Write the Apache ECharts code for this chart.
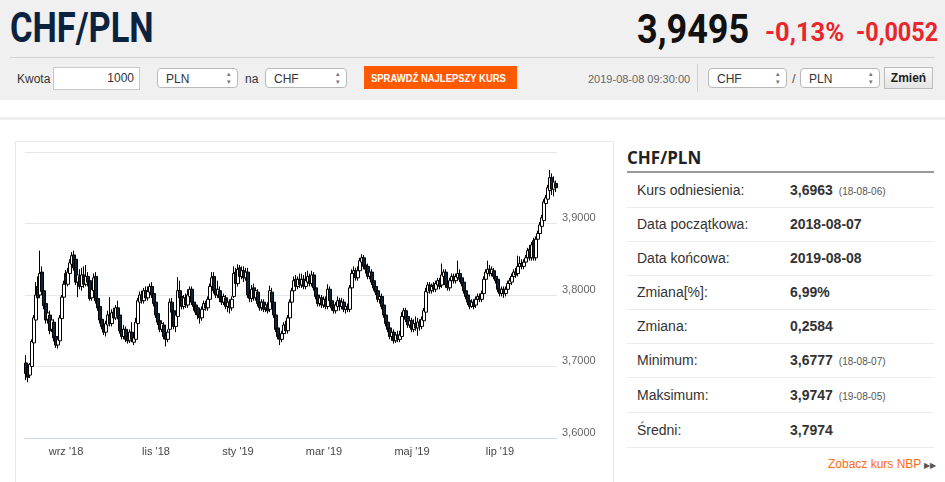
<!DOCTYPE html>
<html lang="pl">
<head>
<meta charset="utf-8">
<title>CHF/PLN</title>
<script src="https://cdn.jsdelivr.net/npm/echarts@6/dist/echarts.min.js"></script>
<style>
  body { margin: 0; width: 945px; height: 482px; overflow: hidden; background: #fff;
         font-family: Arial, "Liberation Sans", sans-serif; color: #333; position: relative; }
  .abs { position: absolute; }
  .narrow { white-space: nowrap; transform-origin: 0 0; }
  #head { left: 0; top: 0; width: 945px; height: 100px; background: #f0f0f0; }
  .sel { position: absolute; height: 20px; background: #fff; border: 1px solid #b9b9b9; border-radius: 4px;
         font-size: 12px; line-height: 20px; padding-left: 8px; box-sizing: border-box; }
  .sel:after { content: "\25B4\A\25BE"; white-space: pre; position: absolute; right: 6px; top: 1px;
               font-size: 7px; line-height: 8px; color: #777; }
  .row { position: absolute; left: 627px; width: 307px; height: 34px; border-bottom: 1px solid #ececec; }
  .row .l { position: absolute; left: 10px; top: 9px; font-size: 14px; color: #333; }
  .row .v { position: absolute; left: 163px; top: 9px; font-size: 14px; font-weight: bold; color: #333; }
  .row .d { font-size: 10px; font-weight: normal; color: #555; margin-left: 6px; }
</style>
</head>
<body>
<div id="head" class="abs">
  <div class="abs narrow" style="left:10px;top:3px;font:bold 42px Roboto,Arial,sans-serif;color:#0c2340;transform:scaleX(0.82);">CHF/PLN</div>
  <div class="abs narrow" style="left:637px;top:6px;font:bold 40px Roboto,Arial,sans-serif;color:#111;transform:scaleX(0.9);">3,9495</div>
  <div class="abs narrow" style="left:765px;top:17px;font:bold 26px Roboto,Arial,sans-serif;color:#e8262b;transform:scaleX(0.98);">-0,13%</div>
  <div class="abs narrow" style="left:856px;top:17px;font:bold 26px Roboto,Arial,sans-serif;color:#e8262b;transform:scaleX(0.9);">-0,0052</div>
  <div class="abs" style="left:10px;top:57px;width:925px;height:1px;background:#d2d2d2;"></div>
  <div class="abs" style="left:17px;top:72px;font-size:12px;color:#333;">Kwota</div>
  <div class="abs" style="left:53px;top:67px;width:87px;height:23px;background:#fff;border:1px solid #c8c8c8;box-sizing:border-box;font-size:12px;line-height:21px;text-align:right;padding-right:5px;">1000</div>
  <div class="sel" style="left:157px;top:68px;width:81px;">PLN</div>
  <div class="abs" style="left:245px;top:72px;font-size:12px;">na</div>
  <div class="sel" style="left:265px;top:68px;width:82px;">CHF</div>
  <div class="abs" style="left:364px;top:66px;width:153px;height:23px;background:#ff5a00;"></div>
  <div class="abs narrow" style="left:371px;top:72px;font:bold 11px Arial,sans-serif;color:#fff;transform:scaleX(0.86);">SPRAWDŹ NAJLEPSZY KURS</div>
  <div class="abs" style="left:588px;top:73px;font-size:11px;color:#666;">2019-08-08 09:30:00</div>
  <div class="abs" style="left:697px;top:64px;width:1px;height:28px;background:#d2d2d2;"></div>
  <div class="sel" style="left:708px;top:68px;width:79px;">CHF</div>
  <div class="abs" style="left:792px;top:71px;font-size:13px;color:#555;">/</div>
  <div class="sel" style="left:800px;top:68px;width:80px;">PLN</div>
  <div class="abs" style="left:884px;top:67px;width:49px;height:22px;background:linear-gradient(#fafafa,#e4e4e4);border:1px solid #bbb;box-sizing:border-box;font:bold 12px Arial,sans-serif;line-height:20px;text-align:center;color:#222;">Zmień</div>
</div>
<div class="abs" style="left:0;top:117px;width:945px;height:3px;background:#efefef;"></div>

<div class="abs" style="left:15px;top:141px;width:597px;height:345px;border-left:1px solid #e8e8e8;border-top:1px solid #e8e8e8;border-right:1px solid #e8e8e8;"></div>
<div id="chart" class="abs" style="left:15px;top:141px;width:597px;height:341px;"></div>

<div class="abs" style="left:627px;top:146px;font:bold 17px 'Open Sans',Arial,sans-serif;color:#222;">CHF/PLN</div>
<div class="abs" style="left:627px;top:171px;width:307px;height:2px;background:#9a9a9a;"></div>
<div class="row" style="top:173px;"><span class="l">Kurs odniesienia:</span><span class="v">3,6963<span class="d">(18-08-06)</span></span></div>
<div class="row" style="top:207px;"><span class="l">Data początkowa:</span><span class="v">2018-08-07</span></div>
<div class="row" style="top:241px;"><span class="l">Data końcowa:</span><span class="v">2019-08-08</span></div>
<div class="row" style="top:275px;"><span class="l">Zmiana[%]:</span><span class="v">6,99%</span></div>
<div class="row" style="top:309px;"><span class="l">Zmiana:</span><span class="v">0,2584</span></div>
<div class="row" style="top:343px;"><span class="l">Minimum:</span><span class="v">3,6777<span class="d">(18-08-07)</span></span></div>
<div class="row" style="top:378px;"><span class="l">Maksimum:</span><span class="v">3,9747<span class="d">(19-08-05)</span></span></div>
<div class="row" style="top:413px;"><span class="l">Średni:</span><span class="v">3,7974</span></div>
<div class="abs" style="left:828px;top:457px;font-size:12px;color:#ff6a13;">Zobacz kurs NBP <span style="font-size:8px;color:#555;">&#9654;&#9654;</span></div>

<script type="text/javascript">
    // dzienne notowania CHF/PLN: [otwarcie, zamknięcie, minimum, maksimum]
    var candles = [
        [3.705,3.690,3.681,3.716],[3.699,3.685,3.678,3.702],[3.688,3.703,3.684,3.705],[3.700,3.735,3.697,3.738],
        [3.733,3.768,3.730,3.772],[3.765,3.800,3.762,3.818],[3.812,3.796,3.790,3.826],[3.800,3.830,3.797,3.862],
        [3.832,3.805,3.800,3.840],[3.806,3.785,3.780,3.810],[3.788,3.765,3.760,3.792],[3.766,3.775,3.760,3.780],
        [3.772,3.750,3.745,3.778],[3.752,3.765,3.748,3.770],[3.762,3.740,3.735,3.766],[3.742,3.730,3.726,3.746],
        [3.730,3.738,3.725,3.742],[3.736,3.768,3.733,3.772],[3.767,3.797,3.764,3.800],[3.797,3.815,3.793,3.820],
        [3.830,3.816,3.812,3.835],[3.815,3.832,3.812,3.838],[3.830,3.845,3.826,3.850],[3.843,3.855,3.840,3.860],
        [3.856,3.838,3.834,3.862],[3.850,3.818,3.814,3.856],[3.818,3.828,3.797,3.832],[3.826,3.812,3.808,3.836],
        [3.812,3.828,3.806,3.838],[3.828,3.815,3.810,3.840],[3.815,3.826,3.812,3.842],[3.826,3.818,3.812,3.832],
        [3.820,3.795,3.792,3.825],[3.796,3.808,3.792,3.812],[3.806,3.824,3.802,3.830],[3.826,3.792,3.788,3.832],
        [3.795,3.782,3.778,3.800],[3.784,3.765,3.760,3.788],[3.766,3.756,3.752,3.772],[3.757,3.748,3.744,3.762],
        [3.748,3.760,3.742,3.764],[3.758,3.772,3.754,3.778],[3.772,3.760,3.756,3.797],[3.760,3.775,3.756,3.780],
        [3.776,3.768,3.762,3.782],[3.768,3.782,3.765,3.786],[3.782,3.770,3.766,3.792],[3.772,3.750,3.746,3.776],
        [3.752,3.742,3.738,3.756],[3.742,3.752,3.738,3.758],[3.752,3.738,3.734,3.756],[3.742,3.736,3.732,3.748],
        [3.736,3.748,3.733,3.752],[3.748,3.738,3.734,3.762],[3.734,3.740,3.730,3.745],[3.738,3.762,3.734,3.768],
        [3.760,3.792,3.757,3.796],[3.790,3.800,3.786,3.805],[3.800,3.792,3.788,3.806],[3.792,3.806,3.788,3.810],
        [3.806,3.796,3.792,3.812],[3.796,3.805,3.792,3.812],[3.804,3.812,3.800,3.816],[3.812,3.800,3.796,3.818],
        [3.802,3.788,3.784,3.806],[3.790,3.772,3.768,3.794],[3.774,3.762,3.758,3.778],[3.764,3.752,3.748,3.768],
        [3.752,3.760,3.748,3.764],[3.758,3.742,3.738,3.762],[3.744,3.738,3.728,3.750],[3.738,3.748,3.734,3.752],
        [3.752,3.790,3.748,3.795],[3.790,3.776,3.772,3.796],[3.778,3.756,3.752,3.782],[3.756,3.772,3.748,3.776],
        [3.770,3.806,3.766,3.825],[3.806,3.796,3.792,3.820],[3.798,3.784,3.780,3.804],[3.784,3.796,3.780,3.800],
        [3.796,3.786,3.782,3.802],[3.786,3.800,3.782,3.808],[3.798,3.808,3.794,3.812],[3.808,3.790,3.786,3.812],
        [3.790,3.784,3.778,3.794],[3.786,3.776,3.772,3.790],[3.782,3.772,3.766,3.786],[3.774,3.768,3.760,3.778],
        [3.768,3.780,3.764,3.784],[3.780,3.788,3.776,3.792],[3.788,3.782,3.778,3.792],[3.782,3.794,3.778,3.798],
        [3.794,3.812,3.790,3.816],[3.812,3.824,3.808,3.832],[3.826,3.806,3.802,3.832],[3.808,3.800,3.796,3.816],
        [3.800,3.808,3.796,3.820],[3.806,3.796,3.790,3.812],[3.798,3.790,3.786,3.804],[3.790,3.798,3.786,3.802],
        [3.796,3.784,3.780,3.800],[3.784,3.790,3.776,3.796],[3.790,3.782,3.774,3.794],[3.782,3.794,3.778,3.798],
        [3.798,3.830,3.796,3.840],[3.832,3.816,3.810,3.838],[3.816,3.836,3.812,3.843],[3.838,3.826,3.820,3.842],
        [3.826,3.834,3.822,3.840],[3.834,3.824,3.818,3.840],[3.824,3.832,3.820,3.838],[3.832,3.800,3.796,3.838],
        [3.802,3.795,3.790,3.812],[3.795,3.808,3.790,3.814],[3.810,3.796,3.792,3.816],[3.796,3.806,3.792,3.810],
        [3.804,3.788,3.784,3.808],[3.790,3.782,3.778,3.794],[3.782,3.790,3.778,3.794],[3.790,3.780,3.776,3.794],
        [3.782,3.786,3.776,3.790],[3.786,3.778,3.774,3.790],[3.780,3.806,3.776,3.813],[3.804,3.790,3.786,3.810],
        [3.790,3.772,3.768,3.794],[3.772,3.752,3.748,3.776],[3.754,3.742,3.738,3.758],[3.744,3.738,3.730,3.748],
        [3.738,3.746,3.734,3.750],[3.746,3.758,3.742,3.762],[3.758,3.750,3.746,3.764],[3.750,3.768,3.746,3.772],
        [3.768,3.790,3.764,3.794],[3.790,3.806,3.786,3.810],[3.806,3.820,3.802,3.826],[3.822,3.812,3.808,3.828],
        [3.812,3.822,3.808,3.826],[3.822,3.814,3.810,3.830],[3.814,3.822,3.810,3.830],[3.822,3.812,3.808,3.828],
        [3.812,3.820,3.808,3.832],[3.818,3.826,3.814,3.834],[3.826,3.816,3.812,3.830],[3.816,3.828,3.812,3.834],
        [3.828,3.810,3.806,3.832],[3.810,3.798,3.794,3.814],[3.800,3.788,3.784,3.804],[3.788,3.796,3.784,3.800],
        [3.796,3.786,3.782,3.800],[3.786,3.794,3.782,3.798],[3.794,3.784,3.780,3.798],[3.784,3.808,3.780,3.815],
        [3.808,3.792,3.786,3.812],[3.792,3.782,3.778,3.796],[3.786,3.778,3.774,3.790],[3.778,3.786,3.774,3.790],
        [3.784,3.792,3.780,3.798],[3.792,3.784,3.778,3.796],[3.784,3.790,3.780,3.796],[3.790,3.780,3.776,3.794],
        [3.780,3.784,3.774,3.790],[3.784,3.780,3.776,3.788],[3.780,3.810,3.776,3.814],[3.810,3.830,3.806,3.836],
        [3.830,3.834,3.824,3.840],[3.834,3.824,3.820,3.838],[3.824,3.834,3.820,3.840],[3.834,3.848,3.830,3.852],
        [3.846,3.852,3.842,3.857],[3.852,3.840,3.836,3.856],[3.842,3.836,3.830,3.850],[3.840,3.826,3.822,3.844],
        [3.826,3.832,3.822,3.836],[3.832,3.818,3.814,3.836],[3.820,3.810,3.806,3.826],[3.812,3.804,3.800,3.816],
        [3.806,3.794,3.790,3.810],[3.794,3.798,3.788,3.802],[3.798,3.784,3.780,3.802],[3.786,3.772,3.768,3.790],
        [3.772,3.760,3.756,3.776],[3.762,3.752,3.748,3.766],[3.754,3.742,3.738,3.758],[3.742,3.748,3.736,3.752],
        [3.748,3.736,3.732,3.752],[3.736,3.744,3.733,3.748],[3.744,3.738,3.734,3.750],[3.738,3.744,3.734,3.750],
        [3.742,3.770,3.738,3.776],[3.770,3.778,3.764,3.782],[3.778,3.766,3.762,3.782],[3.770,3.758,3.754,3.774],
        [3.758,3.764,3.754,3.770],[3.764,3.752,3.748,3.768],[3.752,3.760,3.748,3.766],[3.760,3.754,3.750,3.770],
        [3.754,3.762,3.743,3.768],[3.762,3.756,3.750,3.766],[3.756,3.766,3.752,3.770],[3.764,3.778,3.760,3.782],
        [3.776,3.805,3.772,3.810],[3.804,3.814,3.800,3.818],[3.814,3.806,3.802,3.818],[3.806,3.812,3.802,3.816],
        [3.814,3.808,3.804,3.818],[3.808,3.816,3.804,3.820],[3.814,3.820,3.810,3.824],[3.820,3.812,3.808,3.824],
        [3.814,3.828,3.810,3.844],[3.826,3.832,3.822,3.836],[3.832,3.814,3.810,3.836],[3.816,3.810,3.806,3.822],
        [3.810,3.820,3.806,3.824],[3.820,3.826,3.816,3.830],[3.826,3.820,3.816,3.830],[3.820,3.826,3.816,3.830],
        [3.824,3.830,3.820,3.848],[3.830,3.822,3.818,3.836],[3.824,3.816,3.812,3.828],[3.818,3.806,3.802,3.822],
        [3.806,3.798,3.794,3.810],[3.800,3.790,3.786,3.804],[3.792,3.784,3.780,3.796],[3.784,3.790,3.782,3.794],
        [3.790,3.784,3.780,3.794],[3.786,3.794,3.782,3.798],[3.794,3.798,3.790,3.802],[3.798,3.794,3.790,3.802],
        [3.794,3.802,3.790,3.806],[3.802,3.822,3.798,3.826],[3.822,3.832,3.818,3.836],[3.830,3.836,3.826,3.848],
        [3.836,3.830,3.826,3.842],[3.830,3.836,3.826,3.840],[3.834,3.826,3.822,3.838],[3.826,3.820,3.816,3.830],
        [3.822,3.808,3.804,3.826],[3.808,3.802,3.798,3.812],[3.802,3.808,3.798,3.812],[3.808,3.802,3.796,3.812],
        [3.802,3.808,3.798,3.812],[3.808,3.816,3.804,3.820],[3.816,3.820,3.812,3.824],[3.818,3.826,3.814,3.830],
        [3.826,3.832,3.822,3.836],[3.832,3.828,3.824,3.838],[3.830,3.840,3.826,3.855],[3.840,3.844,3.836,3.854],
        [3.844,3.840,3.836,3.850],[3.840,3.846,3.836,3.850],[3.846,3.852,3.842,3.856],[3.852,3.862,3.848,3.866],
        [3.864,3.852,3.848,3.870],[3.852,3.870,3.848,3.874],[3.876,3.852,3.848,3.880],[3.852,3.878,3.848,3.882],
        [3.878,3.886,3.874,3.890],[3.886,3.898,3.882,3.902],[3.896,3.908,3.892,3.912],[3.904,3.930,3.900,3.934],
        [3.928,3.936,3.924,3.940],[3.934,3.950,3.930,3.954],[3.946,3.964,3.942,3.975],[3.964,3.948,3.940,3.970],
        [3.948,3.958,3.938,3.966],[3.956,3.950,3.944,3.960]
    ];
    // etykiety osi czasu i numery świec, pod którymi stoją
    var xTickText = ["wrz '18", "lis '18", "sty '19", "mar '19", "maj '19", "lip '19"];
    var xTickIdx = [20, 65, 106, 149, 193, 237];
    var days = candles.map(function (c, i) { return i; });

    var chart = echarts.init(document.getElementById('chart'));
    var option = {
        animation: false,
        grid: { left: 10, top: 11, width: 532, height: 286 },
        xAxis: {
            type: 'category',
            data: days,
            boundaryGap: true,
            axisLine: { lineStyle: { color: '#ccd6eb', width: 1 } },
            axisTick: {
                alignWithLabel: true,
                length: 6,
                interval: function (idx) { return xTickIdx.indexOf(idx) >= 0; },
                lineStyle: { color: '#ccd6eb' }
            },
            axisLabel: {
                interval: function (idx) { return xTickIdx.indexOf(idx) >= 0; },
                formatter: function (val, idx) { return xTickText[xTickIdx.indexOf(idx)]; },
                color: '#444',
                fontSize: 11,
                fontFamily: 'Arial, sans-serif',
                margin: 8
            },
            splitLine: { show: false }
        },
        yAxis: {
            type: 'value',
            position: 'right',
            min: 3.6,
            max: 4.0,
            interval: 0.1,
            axisLine: { show: false },
            axisTick: { show: false },
            splitLine: { lineStyle: { color: '#e6e6e6' } },
            axisLabel: {
                showMaxLabel: false,
                formatter: function (v) { return v.toFixed(4).replace('.', ','); },
                color: '#666',
                fontSize: 11,
                fontFamily: 'Arial, sans-serif',
                verticalAlign: 'bottom',
                margin: 5
            }
        },
        series: [{
            name: 'CHF/PLN',
            type: 'candlestick',
            data: candles,
            barWidth: 3,
            itemStyle: {
                color: '#ffffff',
                color0: '#0d233a',
                borderColor: '#000000',
                borderColor0: '#000000',
                borderWidth: 1
            }
        }]
    };
    chart.setOption(option);
</script>
</body>
</html>
